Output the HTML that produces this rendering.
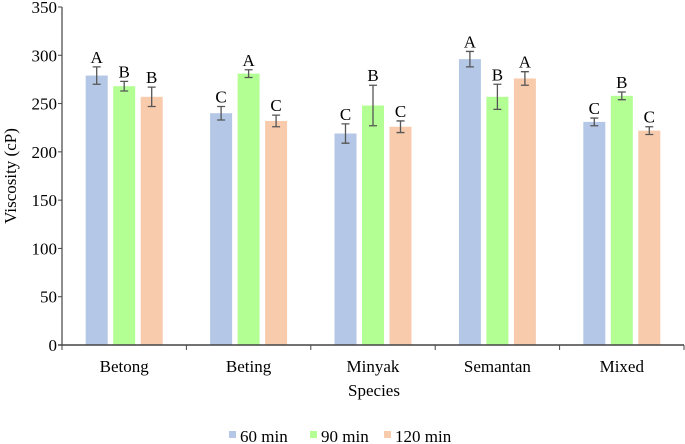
<!DOCTYPE html>
<html><head><meta charset="utf-8"><style>
html,body{margin:0;padding:0;background:#fff;}
svg{display:block;}
svg text{font-family:"Liberation Serif","Times New Roman",serif;}
</style></head><body>
<svg id="chart" width="685" height="444" viewBox="0 0 685 444" font-family="Liberation Serif, serif"></svg>
<script>
const categories=["Betong","Beting","Minyak","Semantan","Mixed"];
const seriesNames=["60 min","90 min","120 min"];
const v60=[279,240,219,296,231];
const v90=[268,281,248,257,258];
const v120=[257,232,226,276,222];
const e60=[9,7,10,8,4];
const e90=[5,4,21,13,4];
const e120=[10,6,6,7,4];
const l60=["A","C","C","A","C"];
const l90=["B","A","B","B","B"];
const l120=["B","C","C","A","C"];
const yTicks=[0,50,100,150,200,250,300,350];
const colors=["#b4c7e7","#b3ff94","#f8cbad"];

const NS="http://www.w3.org/2000/svg";
const svg=document.getElementById("chart");
const X0=62,X1=684,Y0=345,Y1=7,YMAX=350;
const FS="17";
const y=v=>Y0-(v/YMAX)*(Y0-Y1);
const cw=(X1-X0)/categories.length;
const bw=22,step=27.5;
function mk(t,a,txt){const e=document.createElementNS(NS,t);for(const k in a)e.setAttribute(k,a[k]);if(txt!==undefined){e.textContent=txt;e.setAttribute("font-family","Liberation Serif, serif");}svg.appendChild(e);return e;}

yTicks.forEach(t=>{
  const e=mk("text",{x:57,y:y(t)+6,"text-anchor":"end","font-size":FS,fill:"#000"},t);
  
  
  const l=mk("line",{x1:58,x2:62,y1:y(t),y2:y(t),stroke:"#444","stroke-width":1});
  
  
});
const vals=[v60,v90,v120],errs=[e60,e90,e120],lets=[l60,l90,l120];
categories.forEach((c,ci)=>{
  const center=X0+cw*ci+cw/2;
  for(let si=0;si<3;si++){
    const v=vals[si][ci],er=errs[si][ci];
    const x=center+(si-1)*step-bw/2;
    const r=mk("rect",{x:x,y:y(v),width:bw,height:Y0-y(v),fill:colors[si]});
    
    
    const cx=x+bw/2;
    const g=mk("path",{d:`M${cx},${y(v+er)}V${y(v-er)}M${cx-4},${y(v+er)}H${cx+4}M${cx-4},${y(v-er)}H${cx+4}`,stroke:"#555","stroke-width":1.3,fill:"none"});
    
    
    const t=mk("text",{x:cx,y:y(v+er)-4,"text-anchor":"middle","font-size":FS,fill:"#000"},lets[si][ci]);
    
    
  }
  const lb=mk("text",{x:center,y:372,"text-anchor":"middle","font-size":FS,fill:"#000"},c);
  
  
});
for(let i=0;i<=categories.length;i++){
  const xx=X0+cw*i;
  const tk=mk("line",{x1:xx,x2:xx,y1:Y0,y2:Y0+5,stroke:"#444","stroke-width":1});
  
  
}
const ya=mk("line",{x1:X0,x2:X0,y1:Y1,y2:Y0,stroke:"#444","stroke-width":1.2});


const xa=mk("line",{x1:X0-4,x2:X1,y1:Y0,y2:Y0,stroke:"#444","stroke-width":1.5});


const xt=mk("text",{x:374,y:396,"text-anchor":"middle","font-size":FS,fill:"#000"},"Species");


const yt=mk("text",{x:0,y:0,transform:"translate(16,176) rotate(-90)","text-anchor":"middle","font-size":FS,fill:"#000"},"Viscosity (cP)");


const lx=[229,310,384];
seriesNames.forEach((n,i)=>{
  const s=mk("rect",{x:lx[i],y:431,width:7,height:7,fill:colors[i]});
  
  
  const t=mk("text",{x:lx[i]+11,y:442,"font-size":FS,fill:"#000"},n);
  
  
});
</script>
</body></html>
